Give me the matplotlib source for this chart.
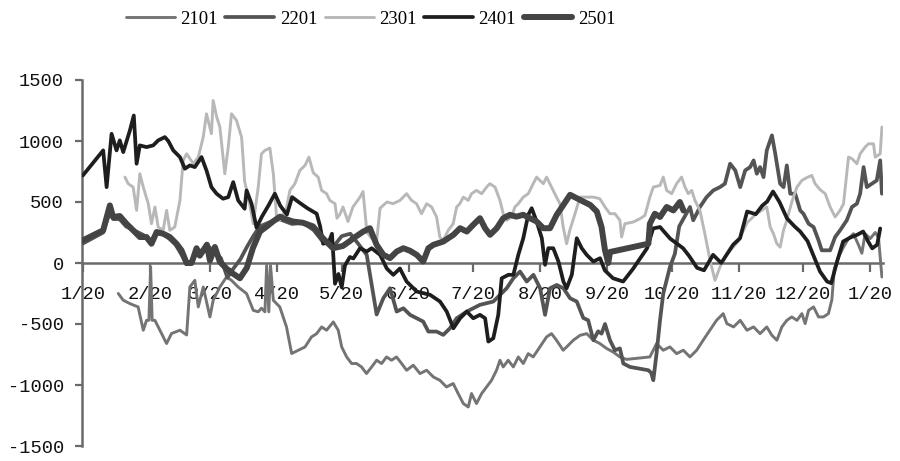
import numpy as np
import pandas as pd
import matplotlib
matplotlib.use("Agg")
import matplotlib.pyplot as plt
import matplotlib.dates as mdates
from matplotlib.ticker import FuncFormatter

# ---------------- data (day offset from 1/20, value) ----------------
series_names = ["2101", "2201", "2301", "2401", "2501"]

d2101 = [16.4, 18.7, 21.8, 25.6, 28.0, 29.5, 30.6, 31.4, 32.1, 33.4,
         36.5, 38.8, 41.1, 45.0, 48.1, 49.6, 51.9, 53.5, 55.8, 58.9,
         60.4, 63.5, 66.6, 68.9, 72.0, 75.9, 79.0, 81.3, 82.8, 84.4,
         85.2, 86.2, 87.0, 88.3, 91.3, 94.4, 96.8, 99.9, 103.0, 106.0,
         108.4, 110.7, 113.0, 116.1, 118.4, 120.0, 122.3, 124.6, 126.9, 129.2,
         131.5, 133.9, 136.2, 138.5, 140.8, 143.1, 145.4, 147.8, 150.1, 153.2,
         156.3, 159.4, 162.5, 165.5, 168.6, 171.7, 174.0, 176.4, 178.7, 180.2,
         182.5, 184.9, 187.2, 189.5, 191.8, 193.4, 194.9, 197.2, 199.6, 201.9,
         204.2, 206.5, 208.8, 211.9, 215.0, 217.3, 219.6, 222.7, 224.3, 227.4,
         230.5, 233.6, 236.7, 239.7, 242.8, 245.9, 249.0, 252.1, 262.9, 266.0,
         269.1, 272.2, 275.3, 278.4, 281.5, 284.6, 287.6, 290.7, 293.8, 296.9,
         298.6, 301.7, 304.8, 307.9, 311.0, 314.0, 317.1, 319.5, 321.8, 324.1,
         326.4, 328.7, 331.1, 333.4, 334.9, 336.5, 338.8, 341.1, 343.4, 345.7,
         347.3, 348.4, 350.4, 352.7, 355.0, 357.3, 359.6, 361.2, 362.7, 365.1,
         367.4, 368.9, 370.5]
v2101 = [-250, -305, -333, -360, -551, -470, -470, -30, -470, -470,
         -578, -660, -578, -551, -590, -197, -142, -360, -197, -442,
         -306, -197, -115, -142, -197, -251, -388, -400, -370, -400,
         -20, -400, -20, -306, -360, -524, -742, -715, -688, -606,
         -579, -524, -551, -483, -551, -688, -770, -824, -824, -852,
         -906, -852, -797, -824, -770, -797, -770, -824, -879, -838,
         -906, -879, -934, -961, -1016, -988, -1070, -1152, -1180, -1070,
         -1152, -1070, -1016, -961, -879, -797, -852, -797, -852, -770,
         -824, -743, -770, -688, -606, -579, -633, -715, -688, -633,
         -593, -579, -633, -660, -700, -730, -770, -790, -770, -661,
         -715, -688, -743, -715, -770, -715, -633, -551, -470, -415,
         -497, -524, -470, -551, -524, -579, -524, -593, -633, -524,
         -470, -442, -470, -415, -497, -388, -360, -442, -442, -415,
         -300, -50, 50, 131, 200, 240, 150, 80, 240, 200,
         250, 210, -115]

d2201 = [0.0, 9.4, 12.5, 14.0, 17.0, 20.0, 28.0, 31.0, 34.0, 37.0,
         40.0, 43.0, 46.0, 48.0, 51.0, 53.0, 56.0, 58.0, 61.0, 64.0,
         67.0, 70.0, 73.0, 76.0, 79.0, 82.0, 86.0, 91.0, 97.0, 102.0,
         107.0, 111.0, 116.0, 120.0, 124.0, 128.0, 131.6, 136.2, 139.3, 142.4,
         145.5, 148.6, 151.7, 157.8, 160.2, 164.0, 167.1, 170.2, 173.3, 178.0,
         181.0, 184.1, 190.3, 193.4, 196.5, 199.6, 202.7, 205.8, 208.9, 212.0,
         214.3, 216.6, 219.7, 222.8, 225.9, 229.0, 232.0, 234.3, 236.7, 238.9,
         240.5, 242.1, 244.4, 246.7, 249.0, 250.6, 253.7, 262.2, 263.5, 264.5,
         266.0, 267.6, 269.1, 272.2, 274.5, 276.5, 279.0, 281.5, 283.0, 284.6,
         286.1, 289.2, 292.3, 295.4, 297.7, 300.1, 302.5, 304.8, 307.1, 309.4,
         311.0, 312.5, 314.0, 315.6, 317.1, 319.5, 321.0, 323.3, 324.9, 326.4,
         328.0, 330.3, 332.6, 334.1, 336.5, 338.8, 341.1, 342.6, 346.5, 348.8,
         351.1, 354.2, 356.6, 358.9, 360.4, 362.0, 363.5, 365.8, 368.1, 369.7,
         370.5]
v2201 = [160, 250, 420, 360, 360, 300, 230, 170, 240, 240,
         200, 150, 60, -10, 20, 110, 90, 140, 90, 40,
         -120, -40, 30, 130, 220, 300, 330, 360, 320, 330,
         270, 180, 130, 220, 240, 150, 67, -422, -289, -207,
         -398, -371, -425, -480, -562, -562, -589, -535, -453, -398,
         -371, -343, -316, -261, -207, -125, -70, -152, -97, -207,
         -425, -207, -180, -207, -289, -316, -450, -470, -633, -560,
         -579, -500, -633, -715, -700, -824, -852, -879, -900, -961,
         -742, -470, -251, -33, 76, 300, 380, 459, 350, 404,
         459, 540, 595, 622, 650, 814, 759, 622, 759, 786,
         841, 732, 786, 704, 923, 1046, 900, 650, 622, 800,
         568, 568, 431, 404, 322, 295, 186, 104, 104, 213,
         268, 350, 459, 486, 568, 786, 622, 650, 677, 841,
         568]

d2301 = [19.5, 21.0, 23.3, 24.9, 26.4, 28.0, 30.3, 31.8, 33.4, 34.9,
         37.2, 38.8, 40.3, 42.6, 45.0, 46.5, 48.1, 51.2, 53.5, 55.8,
         57.3, 59.6, 60.4, 62.0, 63.5, 65.8, 67.4, 68.9, 71.2, 73.6,
         75.0, 76.7, 79.0, 81.3, 82.8, 84.4, 86.7, 88.3, 89.8, 91.3,
         94.4, 96.0, 98.3, 100.6, 103.0, 104.8, 106.8, 109.1, 110.7, 113.0,
         114.5, 116.9, 117.8, 119.2, 120.6, 122.9, 125.2, 128.5, 129.9, 131.7,
         134.0, 136.2, 137.8, 141.0, 143.8, 147.0, 150.1, 152.4, 154.7, 157.0,
         159.4, 161.7, 164.0, 165.5, 167.1, 169.4, 171.7, 173.3, 174.8, 176.4,
         178.7, 180.2, 182.5, 184.9, 187.2, 188.7, 191.1, 193.4, 194.9, 196.5,
         198.8, 200.3, 201.9, 204.2, 206.5, 208.8, 210.4, 211.9, 213.5, 215.0,
         217.3, 219.6, 221.2, 222.7, 224.3, 225.8, 228.2, 230.5, 233.6, 236.7,
         239.7, 242.1, 244.4, 246.7, 249.0, 249.8, 251.3, 255.2, 258.3, 260.6,
         262.9, 264.5, 267.6, 269.1, 270.7, 273.0, 275.3, 277.6, 279.2, 280.7,
         282.3, 283.8, 286.1, 288.4, 290.8, 293.1, 295.4, 297.7, 300.5, 304.0,
         308.0, 312.0, 317.1, 318.7, 320.2, 321.8, 323.3, 324.9, 326.4, 328.7,
         331.1, 333.4, 335.7, 338.0, 339.5, 341.9, 344.2, 346.5, 348.8, 351.1,
         352.7, 355.0, 356.6, 358.9, 360.4, 362.7, 364.3, 366.6, 367.4, 369.7,
         370.5]
v2301 = [704, 650, 622, 431, 732, 622, 486, 322, 459, 295,
         268, 431, 268, 295, 513, 841, 895, 814, 868, 1032,
         1223, 1060, 1332, 1200, 1115, 732, 950, 1223, 1170, 1030,
         668, 540, 322, 622, 895, 923, 942, 732, 377, 350,
         450, 595, 650, 759, 800, 868, 740, 704, 595, 568,
         513, 486, 367, 400, 459, 340, 459, 540, 586, 250,
         200, 180, 449, 500, 486, 513, 568, 513, 486, 404,
         486, 459, 377, 213, 186, 268, 322, 459, 486, 540,
         513, 568, 595, 568, 622, 650, 622, 513, 404, 350,
         377, 459, 486, 540, 568, 650, 704, 677, 650, 704,
         622, 540, 486, 295, 158, 270, 404, 540, 540, 540,
         527, 459, 404, 404, 350, 213, 322, 336, 363, 390,
         540, 622, 636, 704, 595, 568, 650, 704, 622, 568,
         595, 513, 431, 240, 22, -142, -33, 50, 110, 180,
         330, 400, 459, 295, 240, 158, 130, 270, 350, 500,
         622, 677, 700, 718, 650, 600, 568, 459, 377, 431,
         486, 868, 855, 814, 895, 950, 977, 977, 868, 895,
         1114]

d2401 = [0.0, 9.4, 11.0, 13.3, 15.6, 17.1, 18.7, 21.8, 23.6, 24.9,
         26.4, 29.5, 32.6, 34.9, 38.0, 39.6, 41.9, 45.0, 47.3, 49.6,
         51.9, 55.0, 57.3, 59.6, 62.0, 65.0, 67.4, 69.7, 72.0, 75.0,
         75.9, 78.2, 80.5, 83.0, 86.0, 89.0, 91.5, 94.6, 97.0, 100.0,
         104.0, 108.4, 110.0, 111.4, 114.0, 115.5, 116.9, 118.5, 120.0, 121.5,
         123.8, 125.4, 128.5, 131.6, 133.9, 137.8, 140.9, 143.9, 147.0, 150.1,
         154.8, 161.0, 165.6, 168.7, 171.8, 174.9, 178.0, 181.0, 184.1, 186.5,
         188.0, 190.3, 192.6, 194.2, 197.3, 199.6, 201.9, 204.2, 206.5, 208.1,
         210.4, 212.8, 214.3, 215.8, 218.1, 220.5, 222.8, 224.3, 226.7, 229.0,
         231.3, 233.6, 236.7, 239.8, 242.0, 245.8, 250.5, 255.0, 261.6, 264.4,
         267.6, 272.3, 278.3, 281.0, 284.8, 288.0, 292.2, 296.0, 301.5, 304.7,
         308.0, 312.0, 315.0, 317.3, 320.0, 323.0, 326.5, 330.0, 332.6, 336.0,
         338.6, 341.8, 345.1, 347.0, 349.7, 352.5, 356.0, 359.0, 361.8, 364.0,
         366.0, 368.3, 369.7]
v2401 = [718, 923, 622, 1059, 923, 1005, 909, 1087, 1209, 814,
         964, 950, 964, 1005, 1032, 1000, 923, 868, 773, 800,
         786, 868, 759, 622, 568, 527, 540, 663, 513, 445,
         595, 486, 290, 380, 470, 568, 470, 397, 540, 500,
         450, 404, 300, 158, 170, 240, -170, -90, -200, -20,
         49, 37, 121, 94, 121, 67, -45, -97, -45, -152,
         -234, -261, -316, -398, -535, -453, -398, -453, -425, -453,
         -644, -617, -425, -125, -97, -97, 67, 203, 395, 449,
         340, 203, -15, 121, 121, 12, -152, -207, -97, 203,
         121, 67, 12, 39, -60, -125, -152, -50, 121, 283,
         295, 200, 121, 60, -40, -60, 67, 0, 150, 203,
         422, 400, 470, 504, 586, 500, 365, 300, 258, 180,
         67, -70, -152, -165, 12, 176, 210, 231, 258, 180,
         120, 150, 283]

d2501 = [0.0, 9.4, 12.5, 14.0, 17.1, 20.2, 23.3, 26.4, 29.5, 31.8,
         34.2, 37.2, 40.3, 43.4, 45.7, 48.1, 50.4, 52.7, 54.2, 57.5,
         58.9, 61.2, 63.5, 66.6, 69.6, 72.8, 76.0, 78.8, 82.1, 85.3,
         88.1, 91.4, 94.0, 97.4, 102.0, 106.7, 111.3, 116.0, 120.6, 123.8,
         125.4, 130.0, 133.1, 136.2, 139.3, 142.4, 145.5, 148.6, 151.7, 154.8,
         157.8, 160.2, 162.5, 167.1, 171.8, 174.9, 178.0, 181.0, 184.1, 186.5,
         188.8, 191.9, 194.9, 198.0, 201.0, 204.2, 207.3, 210.4, 213.5, 216.6,
         219.7, 222.8, 225.9, 229.0, 232.0, 235.2, 238.3, 240.5, 242.1, 243.6,
         244.4, 262.2, 262.9, 265.2, 267.6, 270.7, 273.8, 276.8, 278.5]
v2501 = [186, 268, 472, 377, 385, 322, 268, 213, 213, 158,
         254, 240, 213, 158, 104, 0, 0, 121, 60, 150,
         20, 131, 10, -46, -87, -125, -40, 121, 258, 300,
         340, 380, 360, 340, 330, 300, 203, 121, 140, 180,
         203, 258, 285, 149, 67, 40, 94, 121, 100, 67,
         12, 121, 149, 176, 231, 285, 258, 313, 367, 285,
         231, 285, 367, 395, 380, 395, 367, 340, 285, 285,
         395, 476, 559, 531, 504, 476, 422, 295, 104, 0,
         90, 158, 322, 404, 377, 459, 431, 500, 430]

month_labels = ["1/20", "2/20", "3/20", "4/20", "5/20", "6/20", "7/20",
                "8/20", "9/20", "10/20", "11/20", "12/20", "1/20"]
y_ticks = [-1500, -1000, -500, 0, 500, 1000, 1500]

# ---------------- styling ----------------
styles = {
    "2101": dict(color="#747474", lw=2.1),
    "2201": dict(color="#545454", lw=2.7),
    "2301": dict(color="#b8b8b8", lw=2.1),
    "2401": dict(color="#1e1e1e", lw=2.7),
    "2501": dict(color="#444444", lw=4.3),
}

base = pd.Timestamp("2023-01-20")


def to_dates(days):
    return base + pd.to_timedelta(np.asarray(days, dtype=float), unit="D")


data = {
    "2101": (d2101, v2101),
    "2201": (d2201, v2201),
    "2301": (d2301, v2301),
    "2401": (d2401, v2401),
    "2501": (d2501, v2501),
}

fig = plt.figure(figsize=(9, 4.61), dpi=100)
ax = fig.add_axes([82 / 900, 15 / 461, 801 / 900, 366 / 461])

handles = []
for name in series_names:
    d, v = data[name]
    st = styles[name]
    (ln,) = ax.plot(to_dates(d), v, color=st["color"], lw=st["lw"],
                    solid_joinstyle="round", solid_capstyle="round",
                    label=name, zorder=3)
    handles.append(ln)

ax.set_ylim(-1500, 1500)
ax.set_yticks(y_ticks)
ax.set_yticklabels([str(t) for t in y_ticks])
ax.set_xlim(base - pd.Timedelta(hours=10), base + pd.Timedelta(days=371))

ax.xaxis.set_major_locator(mdates.MonthLocator(bymonthday=20))


def fmt(x, pos):
    dt = mdates.num2date(x)
    return f"{dt.month}/{dt.day}"


ax.xaxis.set_major_formatter(FuncFormatter(fmt))

for s in ["top", "right"]:
    ax.spines[s].set_visible(False)
ax.spines["bottom"].set_position(("data", 0))
ax.spines["bottom"].set_color("#6a6a6a")
ax.spines["bottom"].set_linewidth(1.8)
ax.spines["bottom"].set_zorder(2)
ax.spines["left"].set_color("#6a6a6a")
ax.spines["left"].set_linewidth(1.8)

tick_family = ["Liberation Mono", "DejaVu Sans Mono"]
ax.tick_params(axis="x", direction="out", length=6.5, width=1.6,
               color="#6a6a6a", pad=10)
ax.tick_params(axis="y", direction="out", length=5, width=1.6,
               color="#6a6a6a", pad=8)
for lab in ax.get_xticklabels() + ax.get_yticklabels():
    lab.set_fontfamily(tick_family)
    lab.set_fontsize(13.5)
    lab.set_color("#111111")

fig.legend(handles=handles, labels=series_names, loc="center left",
           bbox_to_anchor=(126 / 900, 1 - 19 / 461), ncol=5, frameon=False,
           handlelength=2.6, handletextpad=0.3, columnspacing=0.4,
           borderpad=0, borderaxespad=0,
           prop=dict(family=["Liberation Serif", "DejaVu Serif"], size=13.5))

fig.savefig("out.png", dpi=100)
